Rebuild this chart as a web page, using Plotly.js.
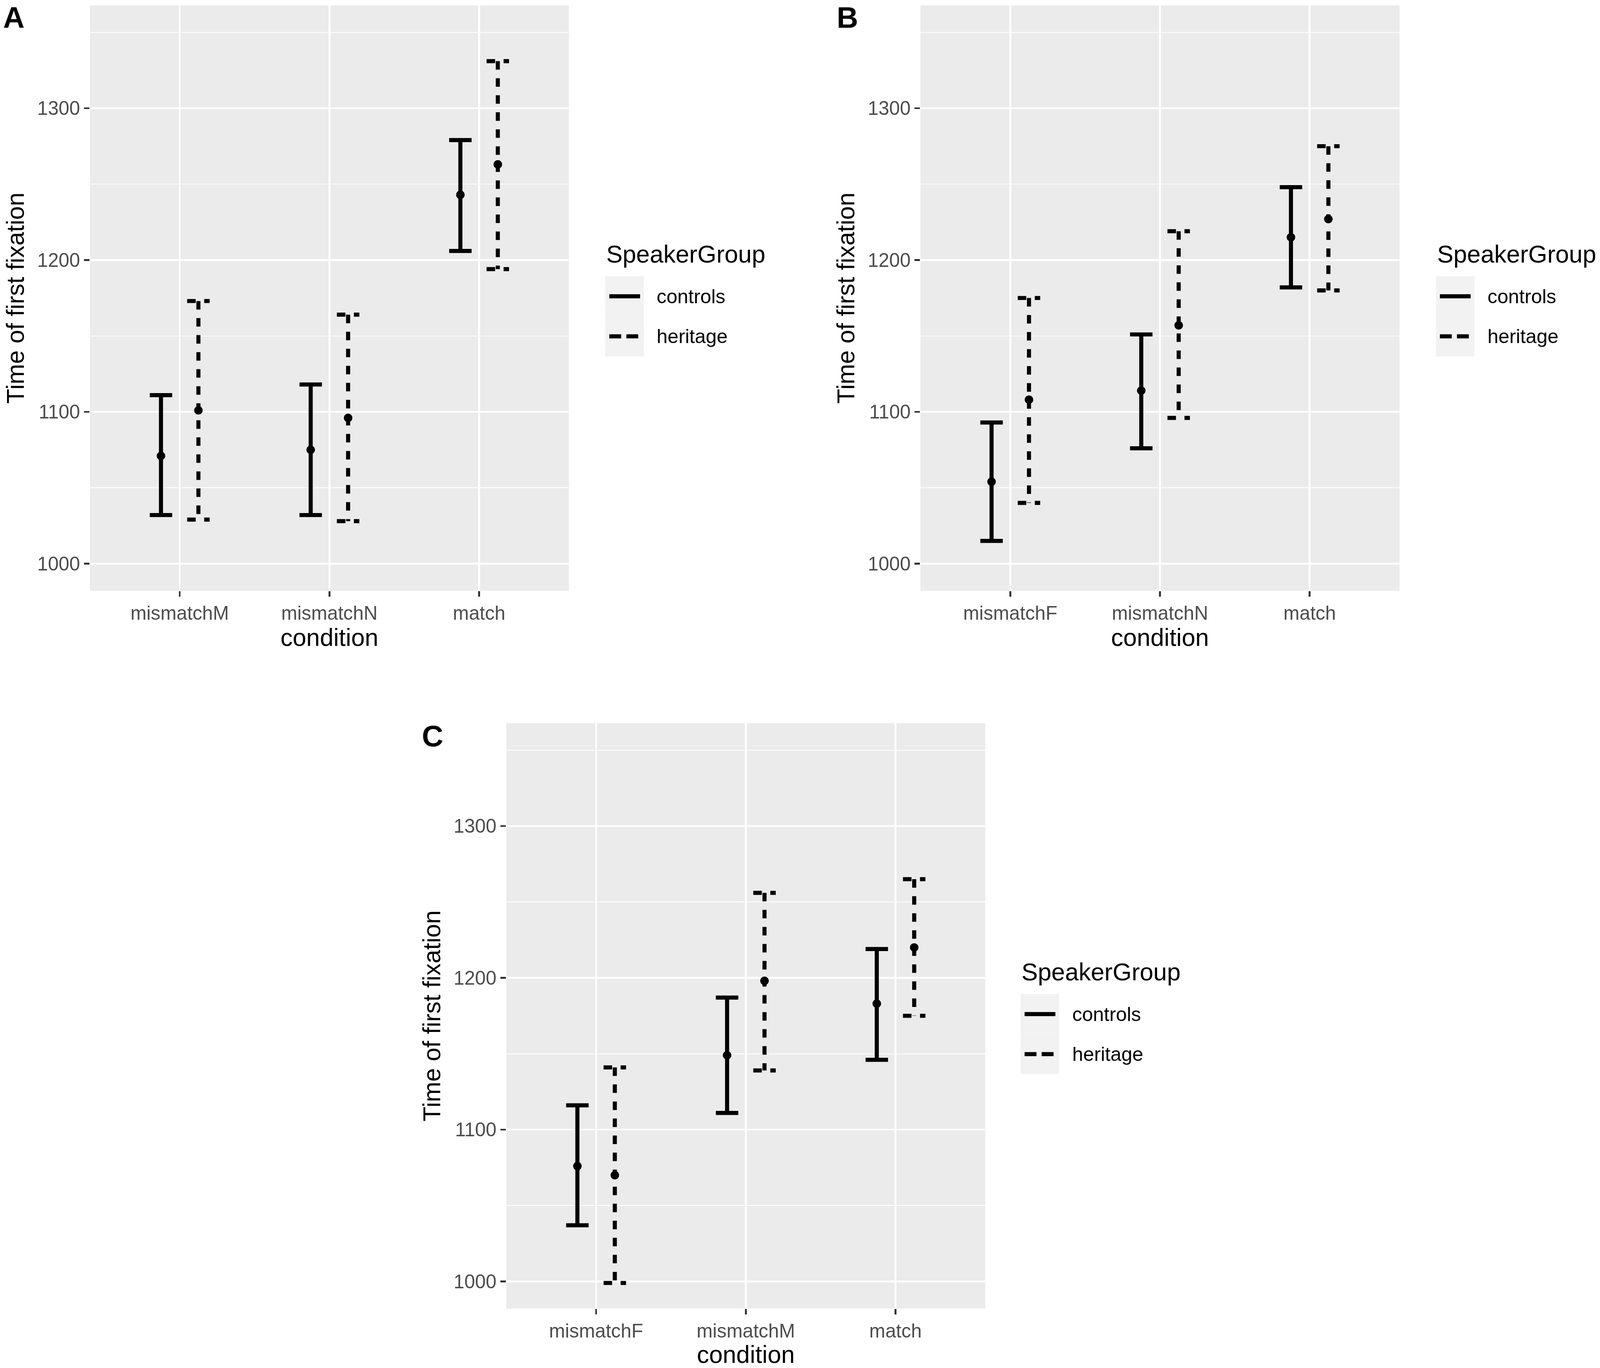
<!DOCTYPE html>
<html>
<head>
<meta charset="utf-8">
<script src="https://cdn.plot.ly/plotly-3.0.1.min.js"></script>
<style>html,body{margin:0;padding:0;background:#ffffff;overflow:hidden;}</style>
</head>
<body>
<div id="chart"></div>
<script>
// ---------------- data ----------------
const groups = ['controls', 'heritage'];
const panelLabels = ['A', 'B', 'C'];
const yTicks = [1000, 1100, 1200, 1300];
const yMinorTicks = [1050, 1150, 1250, 1350];

const conditionsA = ['mismatchM', 'mismatchN', 'match'];
const controlsMeanA = [1071, 1075, 1243];
const controlsLowA  = [1032, 1032, 1206];
const controlsHighA = [1111, 1118, 1279];
const heritageMeanA = [1101, 1096, 1263];
const heritageLowA  = [1029, 1028, 1194];
const heritageHighA = [1173, 1164, 1331];

const conditionsB = ['mismatchF', 'mismatchN', 'match'];
const controlsMeanB = [1054, 1114, 1215];
const controlsLowB  = [1015, 1076, 1182];
const controlsHighB = [1093, 1151, 1248];
const heritageMeanB = [1108, 1157, 1227];
const heritageLowB  = [1040, 1096, 1180];
const heritageHighB = [1175, 1219, 1275];

const conditionsC = ['mismatchF', 'mismatchM', 'match'];
const controlsMeanC = [1076, 1149, 1183];
const controlsLowC  = [1037, 1111, 1146];
const controlsHighC = [1116, 1187, 1219];
const heritageMeanC = [1070, 1198, 1220];
const heritageLowC  = [999, 1139, 1175];
const heritageHighC = [1141, 1256, 1265];

// ---------------- layout helpers ----------------
// design space is the 4317x3501 reference; the figure fills the actual viewport
const REF_W = 4317, REF_H = 3501;
const VW = window.innerWidth || REF_W, VH = window.innerHeight || REF_H;
const s = Math.min(VW / REF_W, VH / REF_H);
const fx = v => v / REF_W;
const fy = v => 1 - v / REF_H;
const FONT = 'Liberation Sans, Arial, sans-serif';
const chartDiv = document.getElementById('chart');
chartDiv.style.width = VW + 'px';
chartDiv.style.height = VH + 'px';

const panels = [
  {cats: conditionsA, dx: 0, dy: 0,
   series: [[controlsMeanA, controlsLowA, controlsHighA], [heritageMeanA, heritageLowA, heritageHighA]]},
  {cats: conditionsB, dx: 2241, dy: 0,
   series: [[controlsMeanB, controlsLowB, controlsHighB], [heritageMeanB, heritageLowB, heritageHighB]]},
  {cats: conditionsC, dx: 1123.5, dy: 1837,
   series: [[controlsMeanC, controlsLowC, controlsHighC], [heritageMeanC, heritageLowC, heritageHighC]]}
];

const dodge = [-0.125, 0.125];
const capHalf = 0.075;
const lineW = 11 * s;
const dashLen = (23 * s).toFixed(1) + 'px';
const dashStyle = ['solid', dashLen + ',' + dashLen];
const keyDash = (32 * s).toFixed(1) + 'px,' + (14 * s).toFixed(1) + 'px';

const tickFont = {family: FONT, size: 52 * s, color: '#4D4D4D'};
const titleFont = {family: FONT, size: 66 * s, color: '#000000'};

const traces = [];
const layout = {
  width: VW, height: VH,
  margin: {l: 0, r: 0, t: 0, b: 0},
  paper_bgcolor: '#ffffff',
  plot_bgcolor: '#EBEBEB',
  showlegend: false,
  font: {family: FONT, color: '#000000'},
  shapes: [],
  annotations: []
};

panels.forEach((p, k) => {
  const sfx = k === 0 ? '' : String(k + 1);
  const xa = 'x' + sfx, ya = 'y' + sfx;
  const left = 242.5 + p.dx, right = 1535 + p.dx;
  const top = 14 + p.dy, bottom = 1512 + p.dy;

  layout['xaxis' + sfx] = {
    domain: [fx(left), fx(right)],
    anchor: ya,
    range: [-0.6, p.cats.length - 0.4],
    tickmode: 'array',
    tickvals: p.cats.map((c, i) => i),
    ticktext: p.cats,
    showgrid: true, gridcolor: '#FFFFFF', gridwidth: 5 * s,
    zeroline: false, showline: false,
    ticks: 'outside', ticklen: 15 * s, tickwidth: 5 * s, tickcolor: '#333333',
    tickfont: tickFont,
    title: {text: 'condition', font: titleFont, standoff: 12 * s},
    fixedrange: true
  };
  layout['yaxis' + sfx] = {
    domain: [fy(bottom), fy(top)],
    anchor: xa,
    range: [982.1, 1367.7],
    tickmode: 'array',
    tickvals: yTicks,
    ticktext: yTicks.map(String),
    showgrid: true, gridcolor: '#FFFFFF', gridwidth: 5 * s,
    minor: {tickmode: 'array', tickvals: yMinorTicks, showgrid: true, gridcolor: '#FFFFFF', gridwidth: 2.5 * s, ticks: ''},
    zeroline: false, showline: false,
    ticks: 'outside', ticklen: 15 * s, tickwidth: 5 * s, tickcolor: '#333333',
    tickfont: tickFont,
    title: {text: 'Time of first fixation', font: titleFont, standoff: 14 * s},
    fixedrange: true
  };

  // error bars (caps + whisker) and mean points
  p.series.forEach((ser, g) => {
    const [mean, lo, hi] = ser;
    const xs = [], ys = [];
    p.cats.forEach((c, i) => {
      const cx = i + dodge[g];
      xs.push(cx - capHalf, cx + capHalf, null, cx, cx, null, cx - capHalf, cx + capHalf, null);
      ys.push(hi[i], hi[i], null, hi[i], lo[i], null, lo[i], lo[i], null);
    });
    traces.push({
      type: 'scatter', mode: 'lines', xaxis: xa, yaxis: ya,
      x: xs, y: ys, connectgaps: false, name: groups[g],
      line: {color: '#000000', width: lineW, dash: dashStyle[g]},
      hoverinfo: 'skip'
    });
    traces.push({
      type: 'scatter', mode: 'markers', xaxis: xa, yaxis: ya,
      x: p.cats.map((c, i) => i + dodge[g]), y: mean, name: groups[g],
      marker: {color: '#000000', size: 23 * s}
    });
  });

  // panel label
  const labelX = [6, 2255, 1136][k];
  layout.annotations.push({
    xref: 'paper', yref: 'paper', x: fx(labelX), y: k === 2 ? fy(p.dy + 2) : 1,
    xanchor: 'left', yanchor: 'top', showarrow: false,
    text: '<b>' + panelLabels[k] + '</b>',
    font: {family: FONT, size: 80 * s, color: '#000000'}
  });

  // legend (ggplot style: title, grey key boxes, line samples, labels)
  const lx = 1633 + p.dx - (k === 2 ? 3 : 0);
  const ly = p.dy;
  layout.annotations.push({
    xref: 'paper', yref: 'paper', x: fx(lx + 1), y: fy(650 + ly),
    xanchor: 'left', yanchor: 'middle', showarrow: false,
    text: 'SpeakerGroup',
    font: titleFont
  });
  groups.forEach((gname, g) => {
    const kt = 707 + ly + g * 102.5, kb = kt + 102.5;
    const kc = (kt + kb) / 2;
    layout.shapes.push({
      type: 'rect', xref: 'paper', yref: 'paper', layer: 'below',
      x0: fx(lx), x1: fx(lx + 104), y0: fy(kb), y1: fy(kt),
      fillcolor: '#F2F2F2', line: {width: 0}
    });
    layout.shapes.push({
      type: 'line', xref: 'paper', yref: 'paper',
      x0: fx(lx + 11), x1: fx(lx + 94), y0: fy(kc), y1: fy(kc),
      line: {color: '#000000', width: lineW, dash: g === 0 ? 'solid' : keyDash}
    });
    layout.annotations.push({
      xref: 'paper', yref: 'paper', x: fx(lx + 137), y: fy(kc),
      xanchor: 'left', yanchor: 'middle', showarrow: false,
      text: gname,
      font: {family: FONT, size: 53 * s, color: '#000000'}
    });
  });
});

Plotly.newPlot('chart', traces, layout, {staticPlot: true, displayModeBar: false});
</script>
</body>
</html>
